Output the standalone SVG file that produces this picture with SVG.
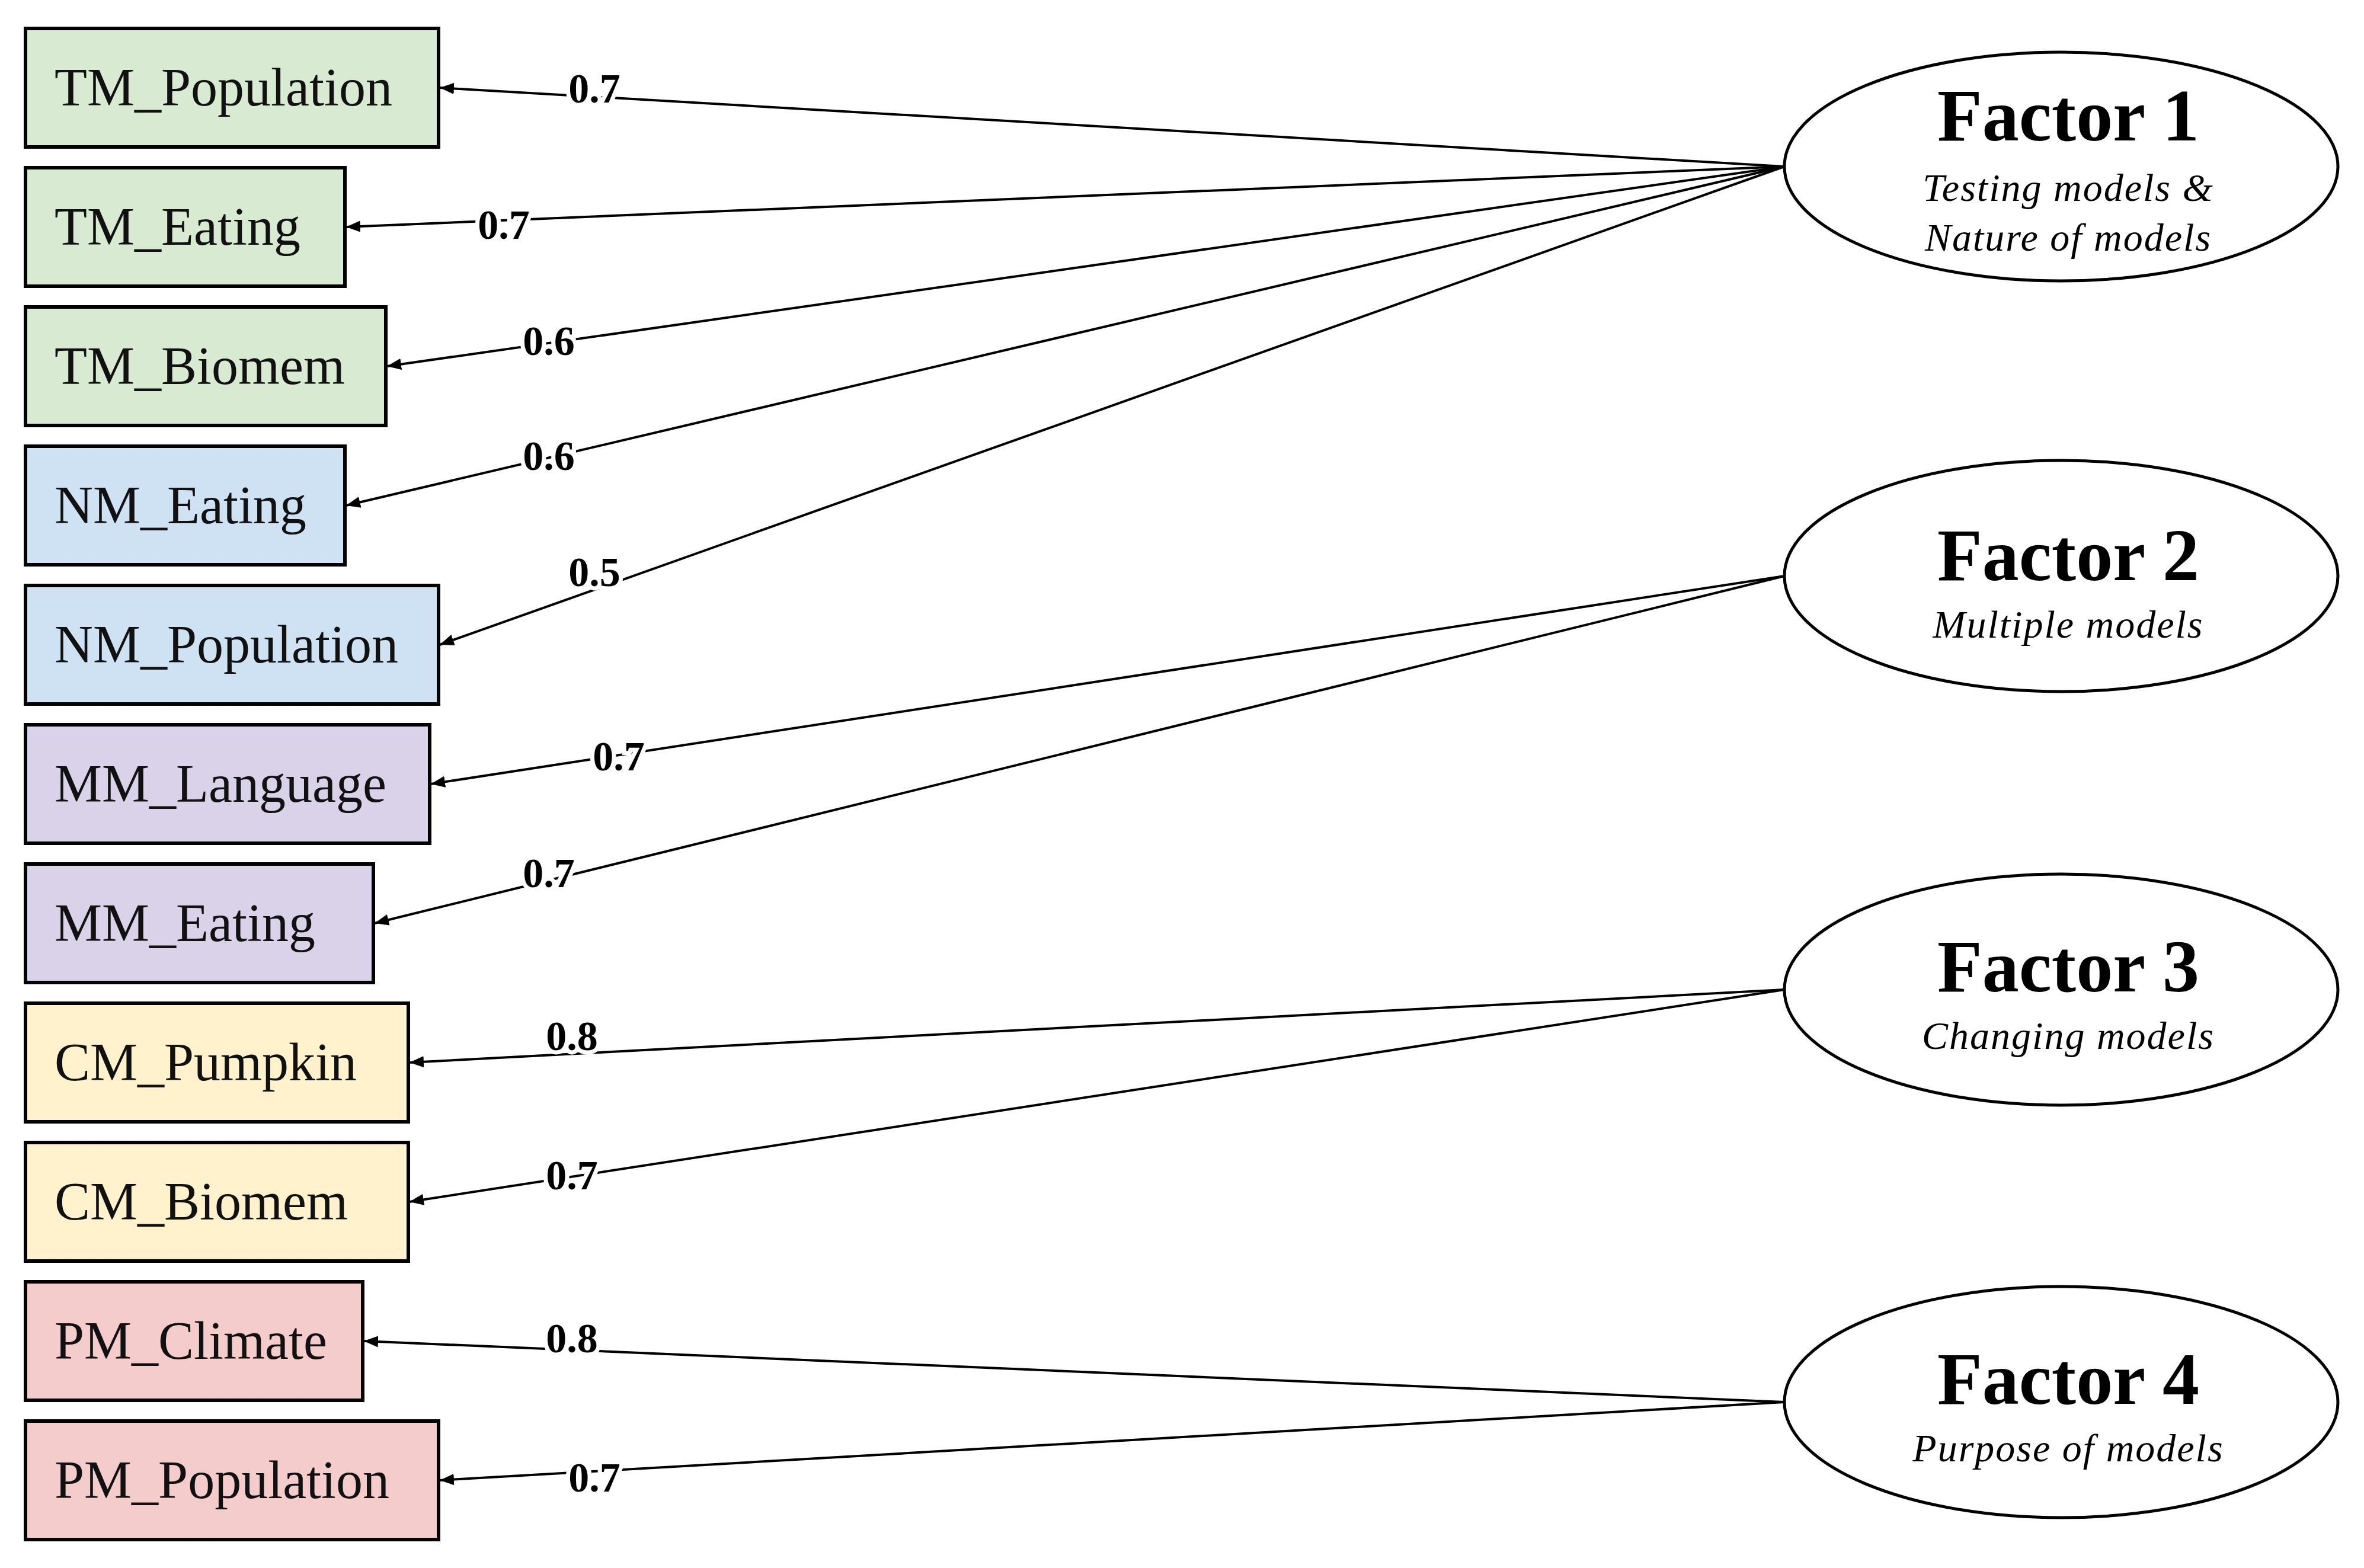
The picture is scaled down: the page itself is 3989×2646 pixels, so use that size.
<svg xmlns="http://www.w3.org/2000/svg" width="3989" height="2646" viewBox="0 0 3989 2646">
<style>
.box{stroke:#000;stroke-width:6}
.bt{font-family:"Liberation Serif",serif;font-size:90px;fill:#111}
.ft{font-family:"Liberation Serif",serif;font-size:124px;font-weight:bold;text-anchor:middle}
.fs{font-family:"Liberation Serif",serif;font-size:66px;font-style:italic;text-anchor:middle;letter-spacing:2px}
.ell{fill:#fff;stroke:#000;stroke-width:5}
.ln{stroke:#000;stroke-width:4;fill:none;marker-end:url(#ah)}
.lb{font-family:"Liberation Serif",serif;font-size:70px;font-weight:bold;text-anchor:middle;paint-order:stroke;stroke:#fff;stroke-width:14px}
</style>
<defs><marker id="ah" viewBox="0 0 10 10" refX="10" refY="5" markerWidth="6" markerHeight="6" orient="auto" markerUnits="strokeWidth"><path d="M0,1 L10,5 L0,9 z" fill="#000"/></marker></defs>
<rect width="3989" height="2646" fill="#fff"/>
<g id="connectors">
<line class="ln" x1="3011" y1="281" x2="742" y2="148"/>
<line class="ln" x1="3011" y1="281" x2="584" y2="383"/>
<line class="ln" x1="3011" y1="281" x2="653" y2="618"/>
<line class="ln" x1="3011" y1="281" x2="584" y2="853"/>
<line class="ln" x1="3011" y1="281" x2="742" y2="1088"/>
<line class="ln" x1="3011" y1="972" x2="727" y2="1323"/>
<line class="ln" x1="3011" y1="972" x2="632" y2="1558"/>
<line class="ln" x1="3011" y1="1670" x2="691" y2="1793"/>
<line class="ln" x1="3011" y1="1670" x2="691" y2="2028"/>
<line class="ln" x1="3011" y1="2366" x2="614" y2="2263"/>
<line class="ln" x1="3011" y1="2366" x2="742" y2="2498"/>
<text class="lb" x="1003" y="173">0.7</text>
<text class="lb" x="850" y="403">0.7</text>
<text class="lb" x="926" y="599">0.6</text>
<text class="lb" x="926" y="793">0.6</text>
<text class="lb" x="1003" y="989">0.5</text>
<text class="lb" x="1044" y="1300">0.7</text>
<text class="lb" x="926" y="1497">0.7</text>
<text class="lb" x="965" y="1772">0.8</text>
<text class="lb" x="965" y="2007">0.7</text>
<text class="lb" x="965" y="2282">0.8</text>
<text class="lb" x="1003" y="2517">0.7</text>
</g>
<g id="n1"><rect class="box" x="43" y="48" width="697" height="200" fill="#d9ead3"/><text class="bt" x="92" y="178">TM_Population</text></g>
<g id="n2"><rect class="box" x="43" y="283" width="539" height="200" fill="#d9ead3"/><text class="bt" x="92" y="413">TM_Eating</text></g>
<g id="n3"><rect class="box" x="43" y="518" width="608" height="200" fill="#d9ead3"/><text class="bt" x="92" y="648">TM_Biomem</text></g>
<g id="n4"><rect class="box" x="43" y="753" width="539" height="200" fill="#cfe2f3"/><text class="bt" x="92" y="883">NM_Eating</text></g>
<g id="n5"><rect class="box" x="43" y="988" width="697" height="200" fill="#cfe2f3"/><text class="bt" x="92" y="1118">NM_Population</text></g>
<g id="n6"><rect class="box" x="43" y="1223" width="682" height="200" fill="#d9d2e9"/><text class="bt" x="92" y="1353">MM_Language</text></g>
<g id="n7"><rect class="box" x="43" y="1458" width="587" height="200" fill="#d9d2e9"/><text class="bt" x="92" y="1588">MM_Eating</text></g>
<g id="n8"><rect class="box" x="43" y="1693" width="646" height="200" fill="#fff2cc"/><text class="bt" x="92" y="1823">CM_Pumpkin</text></g>
<g id="n9"><rect class="box" x="43" y="1928" width="646" height="200" fill="#fff2cc"/><text class="bt" x="92" y="2058">CM_Biomem</text></g>
<g id="n10"><rect class="box" x="43" y="2163" width="569" height="200" fill="#f4cccc"/><text class="bt" x="92" y="2293">PM_Climate</text></g>
<g id="n11"><rect class="box" x="43" y="2398" width="697" height="200" fill="#f4cccc"/><text class="bt" x="92" y="2528">PM_Population</text></g>
<g id="f1"><ellipse class="ell" cx="3478" cy="281" rx="467" ry="193"/><text class="ft" x="3490" y="237">Factor 1</text><text class="fs" x="3490" y="339">Testing models &amp;</text><text class="fs" x="3490" y="423">Nature of models</text></g>
<g id="f2"><ellipse class="ell" cx="3478" cy="972" rx="467" ry="195"/><text class="ft" x="3490" y="979">Factor 2</text><text class="fs" x="3490" y="1076">Multiple models</text></g>
<g id="f3"><ellipse class="ell" cx="3478" cy="1670" rx="467" ry="195"/><text class="ft" x="3490" y="1673">Factor 3</text><text class="fs" x="3490" y="1770">Changing models</text></g>
<g id="f4"><ellipse class="ell" cx="3478" cy="2366" rx="467" ry="195"/><text class="ft" x="3490" y="2369">Factor 4</text><text class="fs" x="3490" y="2466">Purpose of models</text></g>
</svg>
